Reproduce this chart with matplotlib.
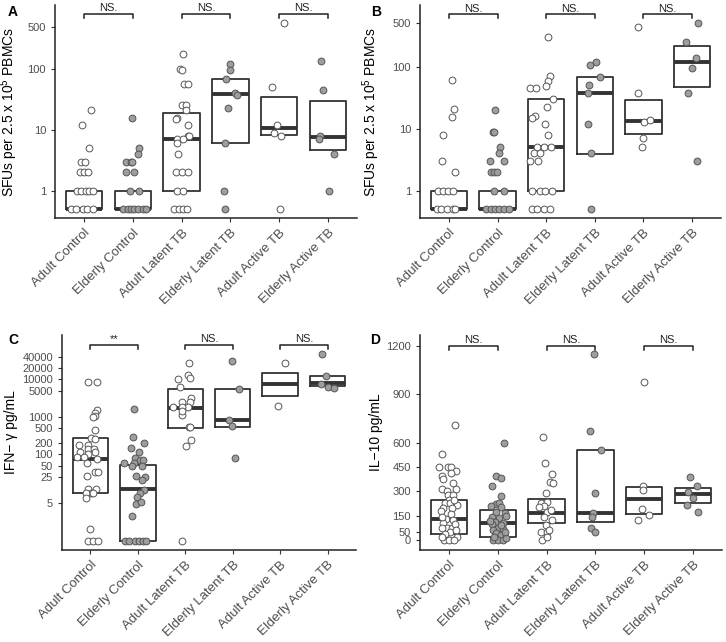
import numpy as np
import matplotlib.pyplot as plt

plt.rcParams['font.family'] = ['Liberation Sans', 'DejaVu Sans']
plt.rcParams['mathtext.default'] = 'regular'

groups = ["Adult Control", "Elderly Control", "Adult Latent TB",
          "Elderly Latent TB", "Adult Active TB", "Elderly Active TB"]

# --- панель A: SFU (значения и горизонтальный джиттер по группам)
a_vals = [
    [21, 12, 5, 3, 3, 2, 2, 2, 1, 1, 1, 1, 1, 0.5, 0.5, 0.5, 0.5, 0.5],
    [16, 5, 4, 3, 3, 3, 2, 2, 1, 1, 0.5, 0.5, 0.5, 0.5, 0.5, 0.5, 0.5],
    [179, 100, 95, 57, 57, 26, 26, 21, 16, 15, 12, 8, 8, 7, 7, 6, 4, 2, 2, 2,
     1, 1, 0.5, 0.5, 0.5, 0.5],
    [121, 97, 69, 41, 38, 23, 6, 1, 0.5],
    [573, 50, 12, 9, 8, 0.5],
    [137, 45, 8, 7, 4, 1],
]
a_jit = [
    [.14, -.05, .10, -.07, .01, -.08, 0, .07, -.14, -.07, .03, .10, .17, -.27, -.17, -.03, .05, .17],
    [-.01, .12, .11, -.14, -.05, -.01, -.14, .03, -.07, .12, -.2, -.1, -.03, .03, .1, .2, .27],
    [.02, -.03, 0, .05, .14, 0, .09, .09, -.1, -.12, .14, .14, .16, -.1, .03, -.1, -.07, -.12, .01, .14,
     -.09, .02, -.16, -.05, .03, .12],
    [0, -.01, -.09, .1, .14, -.05, -.1, -.14, -.1],
    [.1, -.14, -.04, -.11, .03, .01],
    [-.14, -.09, -.15, -.17, .12, .02],
]
a_q1 = [0.5, 0.5, 1, 6, 8.3, 4.6]
a_med = [0.5, 0.5, 7, 38.8, 10.6, 7.6]
a_q3 = [1, 1, 18.8, 70, 35, 29.6]

# --- панель B
b_vals = [
    [62, 20.5, 15.6, 8, 3, 2, 1, 1, 1, 1, 0.5, 0.5, 0.5, 0.5, 0.5],
    [20, 9, 9, 5, 4, 3, 3, 2, 2, 2, 1, 1, 0.5, 0.5, 0.5, 0.5, 0.5, 0.5],
    [297, 70, 58, 49, 45, 45, 30, 22.5, 16, 15, 12, 8, 5, 5, 5, 4, 4, 3, 3,
     1, 1, 1, 1, 0.5, 0.5, 0.5, 0.5],
    [121, 107, 69, 51, 38, 12, 4, 0.5],
    [442, 37, 13, 13.8, 7, 5],
    [500, 253, 140, 96, 37, 3],
]
b_jit = [
    [.05, .1, .05, -.12, -.14, .13, -.22, -.12, -.02, .08, -.26, -.16, -.05, .07, .12],
    [-.05, -.09, -.07, .05, .03, -.15, .12, -.14, -.07, -.02, -.07, .14, -.24, -.14, -.05, .03, .14, .24],
    [.03, .08, .03, -.01, -.33, -.21, .13, .01, -.24, -.29, -.03, .03, -.19, -.05, .1, -.26, -.12, -.33, -.17,
     -.29, -.12, -.02, .12, -.29, -.19, -.05, .08],
    [.02, -.09, .1, -.12, -.14, -.13, -.08, -.07],
    [-.1, -.1, .02, .14, 0, -.03],
    [.12, -.12, .09, .01, -.07, .1],
]
b_q1 = [0.5, 0.5, 1, 3.9, 8.1, 47.5]
b_med = [0.5, 0.5, 5, 38, 13.3, 120]
b_q3 = [1, 1, 30, 67, 29, 217]

# --- панель C: IFN-gamma
c_vals = [
    [8600, 8700, 1500, 1250, 1050, 960, 440, 270, 260, 176, 176, 140, 140, 117, 117, 100,
     86, 86, 73, 58, 34, 34, 26, 12, 12, 9.4, 9.4, 9.4, 7, 1, 0.5, 0.5, 0.5],
    [1600, 294, 204, 144, 117, 78, 70, 70, 60, 60, 50, 50, 26, 25, 21, 11, 9, 7.4, 4.6, 5.4,
     2.2, 0.5, 0.5, 0.5, 0.5, 0.5, 0.5],
    [27700, 13000, 11000, 10000, 6300, 3100, 2500, 1850, 2500, 1850, 1850, 1100, 1400,
     520, 520, 240, 166, 0.5],
    [31000, 5500, 820, 570, 81],
    [28000, 1930],
    [46000, 12400, 7500, 6300, 5700],
]
c_jit = [
    [-.05, .13, .13, .1, .09, .06, .09, .02, .1, -.25, -.05, -.06, .08, -.22, .09, -.05,
     -.28, -.14, .14, -.07, .09, .15, -.08, .11, -.05, .02, -.1, .06, -.1, -.02, -.05, .06, .16],
    [-.08, -.11, .12, -.14, .02, -.07, .04, .1, -.09, -.3, .08, -.12, -.04, .14, .08, .12, .04, -.01, -.05, .07,
     -.12, -.28, -.18, -.07, .02, .11, .18],
    [.07, .05, .1, -.15, -.11, .12, .1, .05, -.07, -.07, -.25, -.06, -.07, .07, .1, .12, .01, -.06],
    [-.01, .14, -.07, -.02, .05],
    [.1, -.04],
    [-.12, -.03, -.13, .02, .13],
]
c_q1 = [9.1, 0.5, 510, 540, 3570, 6500]
c_med = [73, 11.6, 1750, 820, 7300, 7800]
c_q3 = [277, 51, 5400, 5500, 14400, 12000]

# --- панель D: IL-10
d_vals = [
    [709, 530, 454, 454, 454, 429, 412, 398, 375, 313, 313, 300, 278, 278, 247, 227, 230, 216,
     198, 198, 159, 128, 124, 107, 72, 72, 72, 52, 37, 20, 0, 0, 0, 180, 100, 140, 250, 350, 60, 20],
    [598, 398, 386, 336, 272, 220, 227, 210, 206, 175, 169, 144, 134, 113, 107, 99, 72, 66, 62,
     41, 31, 0, 0, 0, 10, 150, 90, 50, 20, 120],
    [639, 474, 408, 361, 350, 289, 227, 237, 210, 206, 175, 186, 144, 124, 93, 50, 47, 62, 0, 20],
    [1148, 674, 557, 289, 169, 144, 72, 47],
    [979, 336, 309, 190, 124, 155],
    [392, 334, 299, 262, 216, 175],
]
d_jit = [
    [.12, -.14, -.2, -.02, .03, .14, .03, -.14, -.12, -.14, .14, -.05, -.02, .08, 0, -.09, .01, .15,
     -.12, .05, .03, -.07, .08, -.12, -.05, .05, -.14, .01, -.09, .15, -.1, 0, .1, -.17, .12, -.14, .1, .07, .14, -.14],
    [.12, -.03, .07, -.12, .07, -.03, .03, -.14, .07, -.03, .14, -.12, .03, -.05, .1, -.12, 0, .1, -.1,
     -.03, .07, -.1, 0, .1, .17, .17, .07, .14, -.08, -.17],
    [-.07, -.03, .1, .06, .14, -.02, -.12, .01, -.05, -.16, 0, .08, -.05, .12, -.02, -.12, 0, .05, -.09, .01],
    [-.03, -.12, .12, 0, -.05, -.07, -.08, 0],
    [-.01, -.03, -.03, -.05, -.12, .1],
    [-.05, .08, -.1, .01, -.12, .1],
]
d_q1 = [35, 21, 105, 113, 161, 227]
d_med = [130, 107, 169, 169, 252, 282]
d_q3 = [250, 186, 252, 555, 326, 324]

sig_labels_a = ["NS.", "NS.", "NS."]
sig_labels_c = ["**", "NS.", "NS."]

fills = ["white", "#9E9E9E"]
dark = "#333333"


def draw_panel(ax, vals, jit, q1, med, q3, sig, br_y):
    for i in range(6):
        x = i + 1
        w = 0.375
        ax.plot([x - w, x + w, x + w, x - w, x - w], [q1[i], q1[i], q3[i], q3[i], q1[i]],
                color=dark, lw=1.3, zorder=2)
        ax.plot([x - w, x + w], [med[i], med[i]], color=dark, lw=2.8,
                solid_capstyle='butt', zorder=2)
        ax.scatter(x + np.array(jit[i]), vals[i], s=24, facecolor=fills[i % 2],
                   edgecolor="#555555", linewidth=0.7, zorder=3, clip_on=False)
    # скобки значимости
    tr = ax.get_xaxis_transform()
    for k, lab in enumerate(sig):
        x1, x2 = 2 * k + 1, 2 * k + 2
        ax.plot([x1, x1, x2, x2], [br_y - 0.018, br_y, br_y, br_y - 0.018], transform=tr,
                color="#222222", lw=1.1, clip_on=False)
        ax.text((x1 + x2) / 2, br_y + 0.004, lab, transform=tr, ha='center', va='bottom',
                fontsize=8, color="#222222")
    ax.set_xlim(0.4, 6.6)
    ax.set_xticks(range(1, 7))
    ax.set_xticklabels(groups, rotation=45, ha='right', rotation_mode='anchor', fontsize=9.5)
    for s in ['top', 'right']:
        ax.spines[s].set_visible(False)
    for s in ['left', 'bottom']:
        ax.spines[s].set_color("#222222")
        ax.spines[s].set_linewidth(1.1)
    ax.tick_params(colors="#333333", labelcolor="#4D4D4D", length=3, width=0.8, labelsize=8)
    ax.tick_params(axis='x', labelsize=9.5)
    ax.minorticks_off()


fig = plt.figure(figsize=(7.26, 6.42), dpi=100)
W, H = 726, 642


def add_ax(l, r, t, b):
    return fig.add_axes([l / W, 1 - b / H, (r - l) / W, (b - t) / H])


axA = add_ax(55, 357, 5, 218)
axB = add_ax(420, 721, 5, 218)
axC = add_ax(62, 356, 335, 550)
axD = add_ax(420, 722, 335, 550)

sfu_label = "SFUs per 2.5 x 10$^5$ PBMCs"

axA.set_yscale('log')
draw_panel(axA, a_vals, a_jit, a_q1, a_med, a_q3, sig_labels_a, 0.958)
axA.set_ylim(0.356, 1133)
axA.set_yticks([1, 10, 100, 500])
axA.set_yticklabels(["1", "10", "100", "500"])
axA.set_ylabel(sfu_label, fontsize=10)
axA.yaxis.set_label_coords(-0.115, 0.5)

axB.set_yscale('log')
draw_panel(axB, b_vals, b_jit, b_q1, b_med, b_q3, sig_labels_a, 0.956)
axB.set_ylim(0.363, 989)
axB.set_yticks([1, 10, 100, 500])
axB.set_yticklabels(["1", "10", "100", "500"])
axB.set_ylabel(sfu_label, fontsize=10)
axB.yaxis.set_label_coords(-0.125, 0.5)

c_ticks = [5, 25, 50, 100, 200, 500, 1000, 5000, 10000, 20000, 40000]
axC.set_yscale('log')
draw_panel(axC, c_vals, c_jit, c_q1, c_med, c_q3, sig_labels_c, 0.953)
axC.set_ylim(0.279, 151700)
axC.set_yticks(c_ticks)
axC.set_yticklabels([str(t) for t in c_ticks])
axC.set_ylabel("IFN\u2212 \u03b3 pg/mL", fontsize=10)
axC.yaxis.set_label_coords(-0.148, 0.55)

d_ticks = [0, 50, 150, 300, 450, 600, 900, 1200]
draw_panel(axD, d_vals, d_jit, d_q1, d_med, d_q3, sig_labels_a, 0.949)
axD.set_ylim(-62, 1268)
axD.set_yticks(d_ticks)
axD.set_yticklabels([str(t) for t in d_ticks])
axD.set_ylabel("IL\u221210 pg/mL", fontsize=10)
axD.yaxis.set_label_coords(-0.124, 0.55)

for lab, (x, y) in zip("ABCD", [(8, 12), (371, 12), (8, 340), (370, 340)]):
    fig.text(x / W, 1 - y / H, lab, fontsize=10, fontweight='bold', va='center', ha='left')

fig.savefig("out.png", dpi=100)
